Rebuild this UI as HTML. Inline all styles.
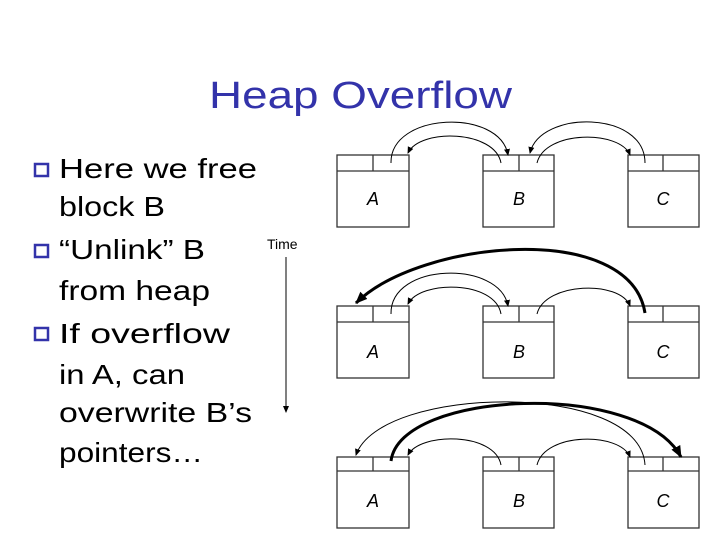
<!DOCTYPE html>
<html><head><style>html,body{margin:0;padding:0;background:#fff;}svg{display:block}</style></head><body>
<svg width="720" height="540" viewBox="0 0 720 540" xmlns="http://www.w3.org/2000/svg" font-family="Liberation Sans, sans-serif">
<defs>
<marker id="a" markerWidth="8" markerHeight="8" refX="6" refY="4" orient="auto" markerUnits="userSpaceOnUse"><path d="M0,1 L7,4 L0,7 z" fill="#000"/></marker>
<marker id="b" markerWidth="14" markerHeight="14" refX="11" refY="7" orient="auto" markerUnits="userSpaceOnUse"><path d="M0,2 L12,7 L0,12 z" fill="#000"/></marker>
</defs>
<text x="209" y="108" font-size="38" fill="#3333aa" textLength="303" lengthAdjust="spacingAndGlyphs">Heap Overflow</text>
<g fill="#fff" stroke="#3333aa" stroke-width="2.5">
<rect x="35" y="164" width="13" height="12"/><rect x="35" y="245" width="13" height="12"/><rect x="35" y="328" width="13" height="12"/>
</g>
<g font-size="28" fill="#000">
<text x="59" y="178" textLength="198" lengthAdjust="spacingAndGlyphs">Here we free</text>
<text x="59" y="216" textLength="106" lengthAdjust="spacingAndGlyphs">block B</text>
<text x="59" y="259" textLength="146" lengthAdjust="spacingAndGlyphs">“Unlink” B</text>
<text x="59" y="300" textLength="151" lengthAdjust="spacingAndGlyphs">from heap</text>
<text x="59" y="343" textLength="171" lengthAdjust="spacingAndGlyphs">If overflow</text>
<text x="59" y="384" textLength="126" lengthAdjust="spacingAndGlyphs">in A, can</text>
<text x="59" y="422" textLength="193" lengthAdjust="spacingAndGlyphs">overwrite B’s</text>
<text x="59" y="462" textLength="144" lengthAdjust="spacingAndGlyphs">pointers…</text>
</g>
<text x="267" y="249" font-size="14" fill="#000">Time</text>
<line x1="286" y1="257" x2="286" y2="412" stroke="#000" stroke-width="1" marker-end="url(#a)"/>
<g fill="#fff" stroke="#333" stroke-width="1.3">
<rect x="337" y="155" width="72" height="72"/><line x1="337" y1="171" x2="409" y2="171"/><line x1="373" y1="155" x2="373" y2="171"/>
<rect x="483" y="155" width="71" height="72"/><line x1="483" y1="171" x2="554" y2="171"/><line x1="519" y1="155" x2="519" y2="171"/>
<rect x="628" y="155" width="71" height="72"/><line x1="628" y1="171" x2="699" y2="171"/><line x1="663" y1="155" x2="663" y2="171"/>
<rect x="337" y="306" width="72" height="72"/><line x1="337" y1="322" x2="409" y2="322"/><line x1="373" y1="306" x2="373" y2="322"/>
<rect x="483" y="306" width="71" height="72"/><line x1="483" y1="322" x2="554" y2="322"/><line x1="519" y1="306" x2="519" y2="322"/>
<rect x="628" y="306" width="71" height="72"/><line x1="628" y1="322" x2="699" y2="322"/><line x1="663" y1="306" x2="663" y2="322"/>
<rect x="337" y="457" width="72" height="71"/><line x1="337" y1="471" x2="409" y2="471"/><line x1="373" y1="457" x2="373" y2="471"/>
<rect x="483" y="457" width="71" height="71"/><line x1="483" y1="471" x2="554" y2="471"/><line x1="519" y1="457" x2="519" y2="471"/>
<rect x="628" y="457" width="71" height="71"/><line x1="628" y1="471" x2="699" y2="471"/><line x1="663" y1="457" x2="663" y2="471"/>
</g>
<g font-size="18" font-style="italic" fill="#000" text-anchor="middle">
<text x="373" y="205">A</text><text x="519" y="205">B</text><text x="663" y="205">C</text>
<text x="373" y="358">A</text><text x="519" y="358">B</text><text x="663" y="358">C</text>
<text x="373" y="507">A</text><text x="519" y="507">B</text><text x="663" y="507">C</text>
</g>
<g fill="none" stroke="#000" stroke-width="1" marker-end="url(#a)">
<path d="M391,163 C390,112 500,108 508,155"/>
<path d="M501,163 C495,130 420,128 408,153"/>
<path d="M537,163 C545,130 620,130 630,155"/>
<path d="M645,163 C645,110 540,110 530,153"/>
<path d="M391,314 C390,262 500,260 508,306"/>
<path d="M501,314 C495,280 420,280 408,304"/>
<path d="M537,314 C545,282 620,280 630,306"/>
<path d="M645,465 C640,380 380,385 356,455"/>
<path d="M501,465 C495,432 420,432 408,455"/>
<path d="M537,465 C545,432 620,432 630,457"/>
</g>
<g fill="none" stroke="#000" stroke-width="3" marker-end="url(#b)">
<path d="M645,313 C630,220 420,240 356,303"/>
<path d="M391,461 C400,390 640,380 681,457"/>
</g>
</svg>
</body></html>
